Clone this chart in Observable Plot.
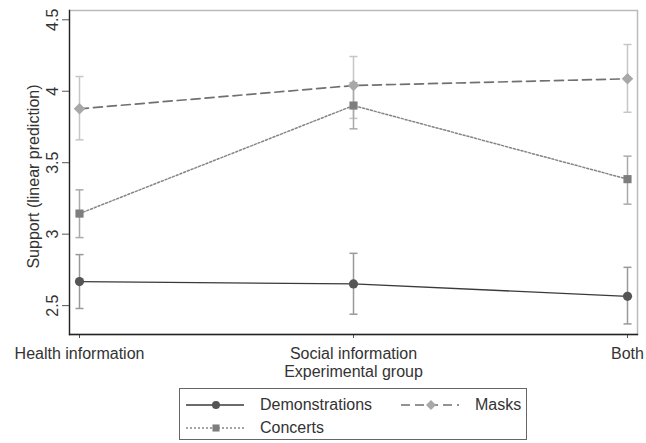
<!DOCTYPE html>
<html>
<head>
<meta charset="utf-8">
<script src="https://cdn.jsdelivr.net/npm/d3@7"></script>
<script src="https://cdn.jsdelivr.net/npm/@observablehq/plot@0.6"></script>
<style>
  html, body { margin: 0; padding: 0; background: #fff; }
  #wrap { position: relative; width: 646px; height: 443px; font-family: "Liberation Sans", Arial, sans-serif; color: #333; }
  #legend { position: absolute; left: 179px; top: 388px; width: 348px; height: 52px; border: 1px solid #666; box-sizing: border-box; font-size: 16px; }
  .item { position: absolute; height: 20px; display: flex; align-items: center; }
  .item svg { display: block; }
  .item span { margin-left: 15px; line-height: 20px; }
</style>
</head>
<body>
<div id="wrap"><div id="chart"></div><div id="legend"></div></div>
<script>
const groups = ["Health information", "Social information", "Both"];
const seriesNames = ["Demonstrations", "Masks", "Concerts"];

const demonstrations   = [2.668, 2.652, 2.565];
const demonstrationsLo = [2.480, 2.440, 2.372];
const demonstrationsHi = [2.857, 2.866, 2.768];

const masks   = [3.877, 4.040, 4.087];
const masksLo = [3.660, 3.810, 3.853];
const masksHi = [4.103, 4.243, 4.327];

const concerts   = [3.144, 3.900, 3.385];
const concertsLo = [2.976, 3.737, 3.210];
const concertsHi = [3.310, 4.060, 3.546];

const yTicks = [2.5, 3, 3.5, 4, 4.5];
const yDomain = [2.298, 4.565];
const yLabel = "Support (linear prediction)";
const xLabel = "Experimental group";

const styles = {
  Demonstrations: {line: "#3a3a3a", dash: null, lw: 1.4, dot: "#555", symbol: "circle", r: 4.6, err: "#999"},
  Masks:          {line: "#707070", dash: "9,5", lw: 1.7, dot: "#a8a8a8", symbol: "diamond2", r: 5.2, err: "#c6c6c6"},
  Concerts:       {line: "#858585", dash: "2,2", lw: 1.5, dot: "#7e7e7e", symbol: "square", r: 4.6, err: "#aaa"}
};

const raw = {
  Demonstrations: [demonstrations, demonstrationsLo, demonstrationsHi],
  Masks: [masks, masksLo, masksHi],
  Concerts: [concerts, concertsLo, concertsHi]
};

const rows = [];
for (const s of seriesNames) {
  const [v, lo, hi] = raw[s];
  groups.forEach((g, i) => rows.push({series: s, group: g, value: v[i], lo: lo[i], hi: hi[i]}));
}

// horizontal cap symbol for error bars
const capSymbol = {draw(ctx) { ctx.moveTo(-4, 0); ctx.lineTo(4, 0); }};

const marks = [Plot.frame({stroke: "#bbb", strokeWidth: 1.5})];
// error bars
for (const s of seriesNames) {
  const d = rows.filter(r => r.series === s);
  const st = styles[s];
  marks.push(Plot.link(d, {x1: "group", x2: "group", y1: "lo", y2: "hi", stroke: st.err, strokeWidth: 1.5}));
  marks.push(Plot.dot(d, {x: "group", y: "lo", symbol: capSymbol, stroke: st.err, fill: "none", strokeWidth: 1.5}));
  marks.push(Plot.dot(d, {x: "group", y: "hi", symbol: capSymbol, stroke: st.err, fill: "none", strokeWidth: 1.5}));
}
// lines
for (const s of seriesNames) {
  const d = rows.filter(r => r.series === s);
  const st = styles[s];
  marks.push(Plot.line(d, {x: "group", y: "value", stroke: st.line, strokeWidth: st.lw, strokeDasharray: st.dash}));
}
// markers
for (const s of seriesNames) {
  const d = rows.filter(r => r.series === s);
  const st = styles[s];
  marks.push(Plot.dot(d, {x: "group", y: "value", fill: st.dot, stroke: "none", symbol: st.symbol, r: st.r}));
}
// axes
marks.push(Plot.axisY({ticks: yTicks, tickSize: 7, tickFormat: () => "", label: null, stroke: "#555"}));
marks.push(Plot.text(yTicks, {y: d => d, text: d => String(d), frameAnchor: "left", dx: -17, rotate: -90, textAnchor: "middle", lineAnchor: "middle", fill: "#333"}));
marks.push(Plot.text([yLabel], {text: d => d, frameAnchor: "left", dx: -36, dy: 4, rotate: -90, textAnchor: "middle", lineAnchor: "middle", fill: "#333"}));
marks.push(Plot.axisX({tickSize: 4, tickPadding: 9, label: null, stroke: "#555", fill: "#333"}));
marks.push(Plot.text([xLabel], {text: d => d, frameAnchor: "bottom", dy: 37, textAnchor: "middle", lineAnchor: "middle", fill: "#333"}));
marks.push(Plot.frame({anchor: "left", stroke: "#222", strokeWidth: 1.3}));
marks.push(Plot.frame({anchor: "bottom", stroke: "#222", strokeWidth: 1.3}));

const chart = Plot.plot({
  width: 646,
  height: 384,
  marginLeft: 69,
  marginRight: 9,
  marginTop: 10,
  marginBottom: 50,
  style: {fontFamily: '"Liberation Sans", Arial, sans-serif', fontSize: "16px", color: "#333", background: "white"},
  x: {type: "point", domain: groups, padding: 0.036},
  y: {domain: yDomain},
  marks
});
document.getElementById("chart").appendChild(chart);

// legend
const legend = d3.select("#legend");
const legendItems = [
  {name: "Demonstrations", left: 5, top: 6},
  {name: "Masks", left: 220, top: 6},
  {name: "Concerts", left: 5, top: 29}
];
for (const it of legendItems) {
  const st = styles[it.name];
  const div = legend.append("div").attr("class", "item").style("left", it.left + "px").style("top", it.top + "px");
  const svg = div.append("svg").attr("width", 60).attr("height", 20);
  svg.append("line").attr("x1", 1).attr("x2", 59).attr("y1", 10).attr("y2", 10)
    .attr("stroke", st.line).attr("stroke-width", st.lw).attr("stroke-dasharray", st.dash);
  const sym = {circle: d3.symbolCircle, diamond2: d3.symbolDiamond2, square: d3.symbolSquare}[st.symbol];
  const area = Math.PI * st.r * st.r * 0.75;
  svg.append("path").attr("d", d3.symbol(sym, area)()).attr("transform", "translate(31,10)").attr("fill", st.dot);
  div.append("span").text(it.name);
}
</script>
</body>
</html>
